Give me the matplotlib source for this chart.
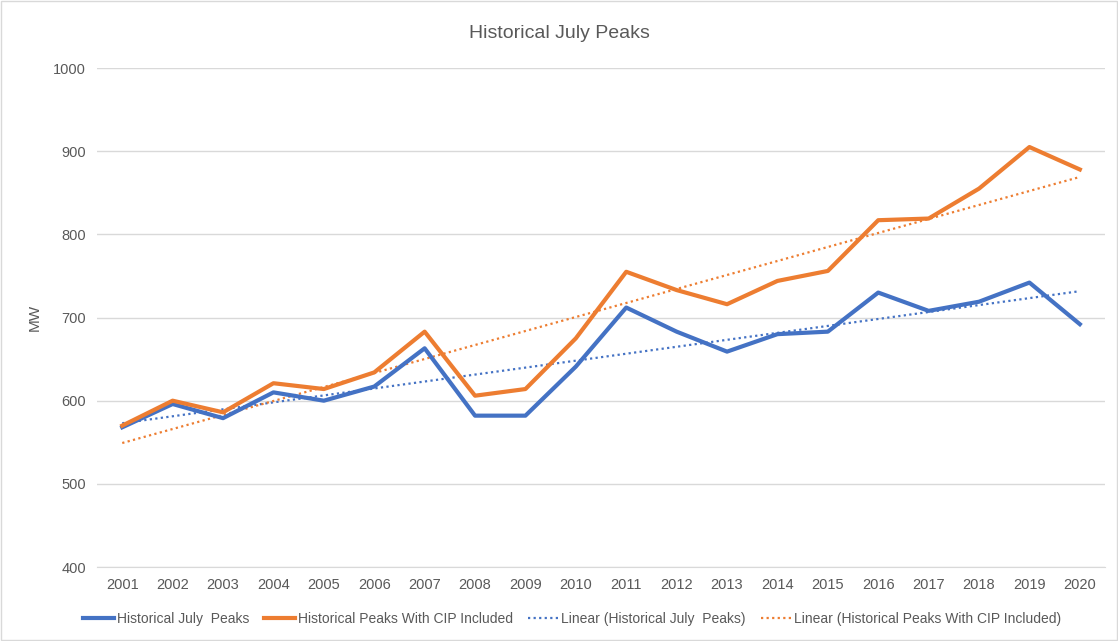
import numpy as np
import matplotlib.pyplot as plt

# Данные графика
years = list(range(2001, 2021))
july_peaks = [568, 596, 579, 610, 600, 617, 663, 582, 582, 641,
              712, 683, 659, 680, 683, 730, 708, 719, 742, 692]
cip_peaks = [570, 600, 586, 621, 614, 634, 683, 606, 614, 675,
             755, 733, 716, 744, 756, 817, 819, 855, 905, 878]

blue = '#4472C4'
orange = '#ED7D31'
text_col = '#595959'

plt.rcParams['font.family'] = ['Liberation Sans', 'DejaVu Sans']

fig = plt.figure(figsize=(11.18, 6.41), dpi=100)
ax = fig.add_axes([0.0868, 0.1154, 0.9016, 0.7785])

x = np.arange(len(years))

# Линии тренда
fit1 = np.polyfit(x, july_peaks, 1)
fit2 = np.polyfit(x, cip_peaks, 1)

ax.plot(x, july_peaks, color=blue, lw=3, label='Historical July  Peaks', zorder=3)
ax.plot(x, cip_peaks, color=orange, lw=3, label='Historical Peaks With CIP Included', zorder=3)
ax.plot(x, np.polyval(fit1, x), color=blue, lw=1.6, ls=(0, (1, 1.5)),
        label='Linear (Historical July  Peaks)', zorder=2)
ax.plot(x, np.polyval(fit2, x), color=orange, lw=1.6, ls=(0, (1, 1.5)),
        label='Linear (Historical Peaks With CIP Included)', zorder=2)

ax.set_xlim(-0.5, len(years) - 0.5)
ax.set_ylim(400, 1000)
ax.set_yticks(range(400, 1001, 100))
ax.set_xticks(x)
ax.set_xticklabels([str(y) for y in years])
ax.tick_params(length=0, labelsize=10.5, labelcolor=text_col, pad=8)
ax.grid(axis='y', color='#D9D9D9', lw=1)
ax.set_axisbelow(True)
for s in ['top', 'right', 'left']:
    ax.spines[s].set_visible(False)
ax.spines['bottom'].set_color('#D9D9D9')

ax.set_ylabel('MW', color=text_col, fontsize=11, labelpad=8)
fig.text(0.5, 0.948, 'Historical July Peaks', ha='center', va='center',
         fontsize=14, color=text_col)

fig.legend(loc='center', bbox_to_anchor=(0.512, 0.035), ncol=4, frameon=False,
           fontsize=10, labelcolor=text_col, handlelength=2.2, handletextpad=0.2,
           columnspacing=1.1)

# Рамка вокруг графика
fig.patches.append(plt.Rectangle((0.001, 0.001), 0.998, 0.998, transform=fig.transFigure,
                                 fill=False, edgecolor='#D9D9D9', lw=1))

fig.savefig('out.png', dpi=100)
